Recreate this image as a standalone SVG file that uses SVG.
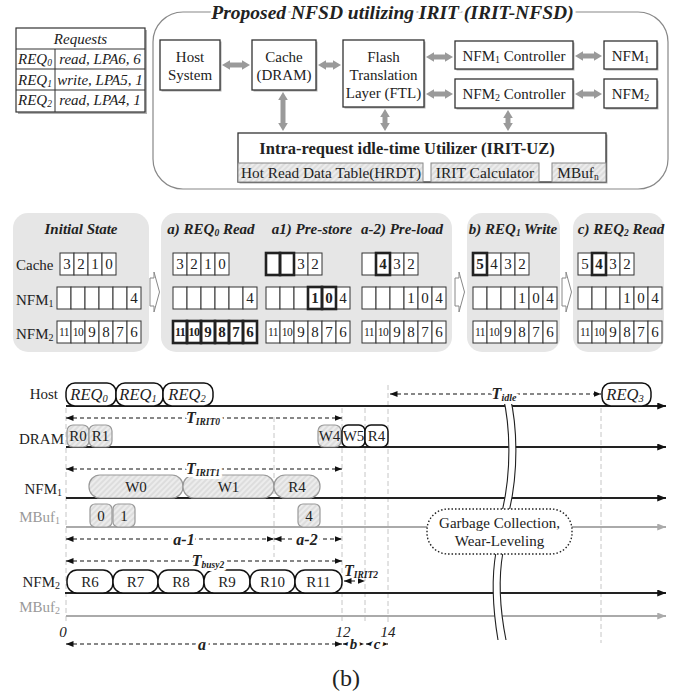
<svg xmlns="http://www.w3.org/2000/svg" width="680" height="692" viewBox="0 0 680 692">
<defs>
<pattern id="hatch" width="4" height="4" patternUnits="userSpaceOnUse" patternTransform="rotate(45)">
<rect width="4" height="4" fill="#ececec"/><line x1="1" y1="0" x2="1" y2="4" stroke="#d4d4d4" stroke-width="1.2"/>
</pattern>
<marker id="ga" viewBox="0 0 10 12" refX="0" refY="6" markerWidth="8" markerHeight="12" markerUnits="userSpaceOnUse" orient="auto-start-reverse"><path d="M0,0 L10,6 L0,12 z" fill="#9a9a9a"/></marker>
<marker id="ka" viewBox="0 0 10 8" refX="10" refY="4" markerWidth="7.5" markerHeight="6" markerUnits="userSpaceOnUse" orient="auto-start-reverse"><path d="M0,0 L10,4 L0,8 z" fill="#111"/></marker>
<marker id="la" viewBox="0 0 10 8" refX="10" refY="4" markerWidth="9" markerHeight="7" markerUnits="userSpaceOnUse" orient="auto"><path d="M0,0 L10,4 L0,8 z" fill="#111"/></marker>
<marker id="lg" viewBox="0 0 10 8" refX="10" refY="4" markerWidth="9" markerHeight="7" markerUnits="userSpaceOnUse" orient="auto"><path d="M0,0 L10,4 L0,8 z" fill="#aaa"/></marker>
<style>
text{font-family:"Liberation Serif","Times New Roman",serif;fill:#222}
.box{fill:#fff;stroke:#333;stroke-width:1.3}
.sh{fill:#b0b0b0}
.hb{fill:url(#hatch);stroke:#888;stroke-width:1}
.garr{stroke:#9a9a9a;stroke-width:5;fill:none;marker-start:url(#ga);marker-end:url(#ga)}
.panel{fill:#e6e6e6}
.c{fill:#fff;stroke:#333;stroke-width:1}
.ct{fill:none;stroke:#222;stroke-width:2.6}
.n{font-size:15px;text-anchor:middle}
.s{font-size:11.5px;text-anchor:middle;letter-spacing:-0.6px}
.nb{font-size:15px;text-anchor:middle;font-weight:bold}
.sb{font-size:12px;text-anchor:middle;letter-spacing:-0.6px;font-weight:bold}
.pt{font-size:15px;font-weight:bold;font-style:italic;text-anchor:middle}
.lab{font-size:15px}
.blk{fill:#fff;stroke:#888;stroke-width:1}
.tl{stroke:#222;stroke-width:2;fill:none;marker-end:url(#la)}
.tg{stroke:#aaa;stroke-width:2;fill:none;marker-end:url(#lg)}
.vd{stroke:#c6c6c6;stroke-width:1;stroke-dasharray:5,3}
.da{stroke:#111;stroke-width:1.2;stroke-dasharray:4,3;fill:none;marker-start:url(#ka);marker-end:url(#ka)}
.halo{paint-order:stroke;stroke:#fff;stroke-width:6px;stroke-linejoin:round}
.bi{font-weight:bold;font-style:italic}
.wb{fill:#fff;stroke:#111;stroke-width:1.5}
.gb{fill:url(#hatch);stroke:#999;stroke-width:1.2}
.bt{font-size:15px;text-anchor:middle}
.rq{font-size:16.5px;font-style:italic;text-anchor:middle}
.grey{fill:#999}
.tr{font-size:15px;font-style:italic}
</style>
</defs>
<rect width="680" height="692" fill="#fff"/>

<!-- Requests table -->
<g id="requests">
<rect x="18" y="30" width="129" height="84" class="sh"/>
<rect x="16" y="28" width="129" height="84" fill="#fff" stroke="#333" stroke-width="1.2"/>
<line x1="16" y1="49" x2="145" y2="49" stroke="#333"/>
<line x1="16" y1="69" x2="145" y2="69" stroke="#333"/>
<line x1="16" y1="90" x2="145" y2="90" stroke="#333"/>
<line x1="55" y1="49" x2="55" y2="112" stroke="#333"/>
<text x="80.5" y="44" font-size="15" font-style="italic" text-anchor="middle">Requests</text>
<text x="18" y="64" class="tr">REQ<tspan font-size="9.5" dy="2">0</tspan></text>
<text x="100" y="64" class="tr" text-anchor="middle">read, LPA6, 6</text>
<text x="18" y="84.5" class="tr">REQ<tspan font-size="9.5" dy="2">1</tspan></text>
<text x="100" y="84.5" class="tr" text-anchor="middle">write, LPA5, 1</text>
<text x="18" y="105" class="tr">REQ<tspan font-size="9.5" dy="2">2</tspan></text>
<text x="100" y="105" class="tr" text-anchor="middle">read, LPA4, 1</text>
</g>

<!-- Architecture container -->
<g id="irit-nfsd">
<rect x="153" y="12" width="515" height="177" rx="30" fill="none" stroke="#888" stroke-width="1.2"/>
<text x="392.5" y="19" font-size="19.5" class="bi halo" text-anchor="middle">Proposed NFSD utilizing IRIT (IRIT-NFSD)</text>
</g>
<g id="host-system">
<rect x="161.5" y="41.5" width="60" height="50" class="sh"/>
<rect x="160" y="40" width="60" height="50" class="box"/>
<text x="190" y="62" class="bt">Host</text>
<text x="190" y="80" class="bt">System</text>
</g>
<g id="cache">
<rect x="253.5" y="41.5" width="64" height="50" class="sh"/>
<rect x="252" y="40" width="64" height="50" class="box"/>
<text x="284" y="62" class="bt">Cache</text>
<text x="284" y="80" class="bt">(DRAM)</text>
</g>
<g id="ftl">
<rect x="344.5" y="41.5" width="81" height="67" class="sh"/>
<rect x="343" y="40" width="81" height="67" class="box"/>
<text x="383.5" y="62" class="bt">Flash</text>
<text x="383.5" y="80" class="bt">Translation</text>
<text x="383.5" y="98" class="bt">Layer (FTL)</text>
</g>
<g id="nfm1-ctrl">
<rect x="456.5" y="42.5" width="118" height="28" class="sh"/>
<rect x="455" y="41" width="118" height="28" class="box"/>
<text x="514" y="60.5" class="bt">NFM<tspan font-size="10" dy="2">1</tspan><tspan dy="-2"> Controller</tspan></text>
</g>
<g id="nfm2-ctrl">
<rect x="456.5" y="80.5" width="118" height="29" class="sh"/>
<rect x="455" y="79" width="118" height="29" class="box"/>
<text x="514" y="99" class="bt">NFM<tspan font-size="10" dy="2">2</tspan><tspan dy="-2"> Controller</tspan></text>
</g>
<g id="nfm1">
<rect x="605.5" y="42.5" width="53" height="28" class="sh"/>
<rect x="604" y="41" width="53" height="28" class="box"/>
<text x="630.5" y="60.5" class="bt">NFM<tspan font-size="10" dy="2">1</tspan></text>
</g>
<g id="nfm2">
<rect x="605.5" y="80.5" width="53" height="29" class="sh"/>
<rect x="604" y="79" width="53" height="29" class="box"/>
<text x="630.5" y="99" class="bt">NFM<tspan font-size="10" dy="2">2</tspan></text>
</g>
<g id="irit-uz">
<rect x="239.5" y="134.5" width="368" height="49" class="sh"/>
<rect x="238" y="133" width="368" height="49" class="box"/>
<text x="407" y="154" font-size="16.5" font-weight="bold" text-anchor="middle">Intra-request idle-time Utilizer (IRIT-UZ)</text>
<rect x="238" y="163" width="185" height="19" class="hb"/>
<text x="331" y="177.5" font-size="15.3" text-anchor="middle">Hot Read Data Table(HRDT)</text>
<rect x="431" y="163" width="108" height="19" class="hb"/>
<text x="485" y="177.5" font-size="15.5" text-anchor="middle">IRIT Calculator</text>
<rect x="552" y="163" width="54" height="19" class="hb"/>
<text x="578" y="177.5" font-size="15.3" text-anchor="middle">MBuf<tspan font-size="9.5" dy="2">n</tspan></text>
</g>
<g id="arch-connectors">
<line x1="230" y1="65" x2="242" y2="65" class="garr"/>
<line x1="326" y1="65" x2="333" y2="65" class="garr"/>
<line x1="434" y1="57" x2="445" y2="57" class="garr"/>
<line x1="434" y1="94" x2="445" y2="94" class="garr"/>
<line x1="583" y1="56" x2="594" y2="56" class="garr"/>
<line x1="583" y1="94" x2="594" y2="94" class="garr"/>
<line x1="283" y1="100" x2="283" y2="123" class="garr"/>
<line x1="385" y1="117" x2="385" y2="123" class="garr"/>
<line x1="508" y1="118" x2="508" y2="123" class="garr"/>
</g>

<!-- State panels -->
<g id="panel-initial">
<rect x="13" y="213" width="136" height="139" rx="15" class="panel"/>
<text x="81" y="234" class="pt">Initial State</text>
<text x="16" y="270" class="lab">Cache</text>
<text x="16" y="305" class="lab">NFM<tspan font-size="10" dy="2">1</tspan></text>
<text x="16" y="339" class="lab">NFM<tspan font-size="10" dy="2">2</tspan></text>
<rect x="60" y="253" width="14" height="22" class="c"/><rect x="74" y="253" width="14" height="22" class="c"/><rect x="88" y="253" width="14" height="22" class="c"/><rect x="102" y="253" width="14" height="22" class="c"/>
<text x="67" y="269" class="n">3</text><text x="81" y="269" class="n">2</text><text x="95" y="269" class="n">1</text><text x="109" y="269" class="n">0</text>
<rect x="57" y="287" width="14" height="22" class="c"/><rect x="71" y="287" width="14" height="22" class="c"/><rect x="85" y="287" width="14" height="22" class="c"/><rect x="99" y="287" width="14" height="22" class="c"/><rect x="113" y="287" width="14" height="22" class="c"/><rect x="127" y="287" width="14" height="22" class="c"/>
<text x="134" y="303" class="n">4</text>
<rect x="57" y="321" width="14" height="22" class="c"/><rect x="71" y="321" width="14" height="22" class="c"/><rect x="85" y="321" width="14" height="22" class="c"/><rect x="99" y="321" width="14" height="22" class="c"/><rect x="113" y="321" width="14" height="22" class="c"/><rect x="127" y="321" width="14" height="22" class="c"/>
<text x="64" y="336" class="s">11</text><text x="78" y="336" class="s">10</text><text x="92" y="337" class="n">9</text><text x="106" y="337" class="n">8</text><text x="120" y="337" class="n">7</text><text x="134" y="337" class="n">6</text>
</g>
<polygon points="150,278 154,278 154,272 159.5,292 154,312 154,306 150,306" class="blk"/>

<g id="panel-a">
<rect x="161" y="213" width="291" height="139" rx="15" class="panel"/>
<text x="211" y="234" class="pt">a) REQ<tspan font-size="9.5" dy="2">0</tspan><tspan dy="-2"> Read</tspan></text>
<text x="312" y="234" class="pt">a1) Pre-store</text>
<text x="402" y="234" class="pt">a-2) Pre-load</text>
<rect x="173" y="253" width="14" height="22" class="c"/><rect x="187" y="253" width="14" height="22" class="c"/><rect x="201" y="253" width="14" height="22" class="c"/><rect x="215" y="253" width="14" height="22" class="c"/>
<text x="180" y="269" class="n">3</text><text x="194" y="269" class="n">2</text><text x="208" y="269" class="n">1</text><text x="222" y="269" class="n">0</text>
<rect x="173" y="287" width="14" height="22" class="c"/><rect x="187" y="287" width="14" height="22" class="c"/><rect x="201" y="287" width="14" height="22" class="c"/><rect x="215" y="287" width="14" height="22" class="c"/><rect x="229" y="287" width="14" height="22" class="c"/><rect x="243" y="287" width="14" height="22" class="c"/>
<text x="250" y="303" class="n">4</text>
<rect x="173" y="321" width="14" height="22" class="c"/><rect x="187" y="321" width="14" height="22" class="c"/><rect x="201" y="321" width="14" height="22" class="c"/><rect x="215" y="321" width="14" height="22" class="c"/><rect x="229" y="321" width="14" height="22" class="c"/><rect x="243" y="321" width="14" height="22" class="c"/>
<rect x="173" y="321" width="14" height="22" class="ct"/><rect x="187" y="321" width="14" height="22" class="ct"/><rect x="201" y="321" width="14" height="22" class="ct"/><rect x="215" y="321" width="14" height="22" class="ct"/><rect x="229" y="321" width="14" height="22" class="ct"/><rect x="243" y="321" width="14" height="22" class="ct"/>
<text x="180" y="336" class="sb">11</text><text x="194" y="336" class="sb">10</text><text x="208" y="337" class="nb">9</text><text x="222" y="337" class="nb">8</text><text x="236" y="337" class="nb">7</text><text x="250" y="337" class="nb">6</text>
<rect x="266" y="253" width="14" height="22" class="c"/><rect x="280" y="253" width="14" height="22" class="c"/><rect x="294" y="253" width="14" height="22" class="c"/><rect x="308" y="253" width="14" height="22" class="c"/>
<rect x="266" y="253" width="14" height="22" class="ct"/><rect x="280" y="253" width="14" height="22" class="ct"/>
<text x="301" y="269" class="n">3</text><text x="315" y="269" class="n">2</text>
<rect x="266" y="287" width="14" height="22" class="c"/><rect x="280" y="287" width="14" height="22" class="c"/><rect x="294" y="287" width="14" height="22" class="c"/><rect x="308" y="287" width="14" height="22" class="c"/><rect x="322" y="287" width="14" height="22" class="c"/><rect x="336" y="287" width="14" height="22" class="c"/>
<rect x="308" y="287" width="14" height="22" class="ct"/><rect x="322" y="287" width="14" height="22" class="ct"/>
<text x="315" y="303" class="nb">1</text><text x="329" y="303" class="nb">0</text><text x="343" y="303" class="n">4</text>
<rect x="266" y="321" width="14" height="22" class="c"/><rect x="280" y="321" width="14" height="22" class="c"/><rect x="294" y="321" width="14" height="22" class="c"/><rect x="308" y="321" width="14" height="22" class="c"/><rect x="322" y="321" width="14" height="22" class="c"/><rect x="336" y="321" width="14" height="22" class="c"/>
<text x="273" y="336" class="s">11</text><text x="287" y="336" class="s">10</text><text x="301" y="337" class="n">9</text><text x="315" y="337" class="n">8</text><text x="329" y="337" class="n">7</text><text x="343" y="337" class="n">6</text>
<rect x="362" y="253" width="14" height="22" class="c"/><rect x="376" y="253" width="14" height="22" class="c"/><rect x="390" y="253" width="14" height="22" class="c"/><rect x="404" y="253" width="14" height="22" class="c"/>
<rect x="376" y="253" width="14" height="22" class="ct"/>
<text x="383" y="269" class="nb">4</text><text x="397" y="269" class="n">3</text><text x="411" y="269" class="n">2</text>
<rect x="362" y="287" width="14" height="22" class="c"/><rect x="376" y="287" width="14" height="22" class="c"/><rect x="390" y="287" width="14" height="22" class="c"/><rect x="404" y="287" width="14" height="22" class="c"/><rect x="418" y="287" width="14" height="22" class="c"/><rect x="432" y="287" width="14" height="22" class="c"/>
<text x="411" y="303" class="n">1</text><text x="425" y="303" class="n">0</text><text x="439" y="303" class="n">4</text>
<rect x="362" y="321" width="14" height="22" class="c"/><rect x="376" y="321" width="14" height="22" class="c"/><rect x="390" y="321" width="14" height="22" class="c"/><rect x="404" y="321" width="14" height="22" class="c"/><rect x="418" y="321" width="14" height="22" class="c"/><rect x="432" y="321" width="14" height="22" class="c"/>
<text x="369" y="336" class="s">11</text><text x="383" y="336" class="s">10</text><text x="397" y="337" class="n">9</text><text x="411" y="337" class="n">8</text><text x="425" y="337" class="n">7</text><text x="439" y="337" class="n">6</text>
</g>
<polygon points="455,278 459,278 459,272 464.5,292 459,312 459,306 455,306" class="blk"/>

<g id="panel-b">
<rect x="467" y="213" width="93" height="139" rx="15" class="panel"/>
<text x="513" y="234" class="pt">b) REQ<tspan font-size="9.5" dy="2">1</tspan><tspan dy="-2"> Write</tspan></text>
<rect x="473" y="253" width="14" height="22" class="c"/><rect x="487" y="253" width="14" height="22" class="c"/><rect x="501" y="253" width="14" height="22" class="c"/><rect x="515" y="253" width="14" height="22" class="c"/>
<rect x="473" y="253" width="14" height="22" class="ct"/>
<text x="480" y="269" class="nb">5</text><text x="494" y="269" class="n">4</text><text x="508" y="269" class="n">3</text><text x="522" y="269" class="n">2</text>
<rect x="473" y="287" width="14" height="22" class="c"/><rect x="487" y="287" width="14" height="22" class="c"/><rect x="501" y="287" width="14" height="22" class="c"/><rect x="515" y="287" width="14" height="22" class="c"/><rect x="529" y="287" width="14" height="22" class="c"/><rect x="543" y="287" width="14" height="22" class="c"/>
<text x="522" y="303" class="n">1</text><text x="536" y="303" class="n">0</text><text x="550" y="303" class="n">4</text>
<rect x="473" y="321" width="14" height="22" class="c"/><rect x="487" y="321" width="14" height="22" class="c"/><rect x="501" y="321" width="14" height="22" class="c"/><rect x="515" y="321" width="14" height="22" class="c"/><rect x="529" y="321" width="14" height="22" class="c"/><rect x="543" y="321" width="14" height="22" class="c"/>
<text x="480" y="336" class="s">11</text><text x="494" y="336" class="s">10</text><text x="508" y="337" class="n">9</text><text x="522" y="337" class="n">8</text><text x="536" y="337" class="n">7</text><text x="550" y="337" class="n">6</text>
</g>
<polygon points="562,278 566,278 566,272 571.5,292 566,312 566,306 562,306" class="blk"/>

<g id="panel-c">
<rect x="573" y="213" width="91" height="139" rx="15" class="panel"/>
<text x="621" y="234" class="pt">c) REQ<tspan font-size="9.5" dy="2">2</tspan><tspan dy="-2"> Read</tspan></text>
<rect x="578" y="253" width="14" height="22" class="c"/><rect x="592" y="253" width="14" height="22" class="c"/><rect x="606" y="253" width="14" height="22" class="c"/><rect x="620" y="253" width="14" height="22" class="c"/>
<rect x="592" y="253" width="14" height="22" class="ct"/>
<text x="585" y="269" class="n">5</text><text x="599" y="269" class="nb">4</text><text x="613" y="269" class="n">3</text><text x="627" y="269" class="n">2</text>
<rect x="578" y="287" width="14" height="22" class="c"/><rect x="592" y="287" width="14" height="22" class="c"/><rect x="606" y="287" width="14" height="22" class="c"/><rect x="620" y="287" width="14" height="22" class="c"/><rect x="634" y="287" width="14" height="22" class="c"/><rect x="648" y="287" width="14" height="22" class="c"/>
<text x="627" y="303" class="n">1</text><text x="641" y="303" class="n">0</text><text x="655" y="303" class="n">4</text>
<rect x="578" y="321" width="14" height="22" class="c"/><rect x="592" y="321" width="14" height="22" class="c"/><rect x="606" y="321" width="14" height="22" class="c"/><rect x="620" y="321" width="14" height="22" class="c"/><rect x="634" y="321" width="14" height="22" class="c"/><rect x="648" y="321" width="14" height="22" class="c"/>
<text x="585" y="336" class="s">11</text><text x="599" y="336" class="s">10</text><text x="613" y="337" class="n">9</text><text x="627" y="337" class="n">8</text><text x="641" y="337" class="n">7</text><text x="655" y="337" class="n">6</text>
</g>

<!-- Timeline -->
<g id="timeline-grid">
<line x1="66" y1="408" x2="66" y2="622" class="vd"/>
<line x1="274" y1="417" x2="274" y2="557" class="vd"/>
<line x1="342" y1="408" x2="342" y2="623" class="vd"/>
<line x1="365" y1="408" x2="365" y2="623" class="vd"/>
<line x1="388" y1="385" x2="388" y2="623" class="vd"/>
<line x1="601" y1="408" x2="601" y2="643" class="vd"/>
</g>
<g id="timeline-lines">
<line x1="66" y1="406" x2="666" y2="406" class="tl"/>
<line x1="66" y1="447" x2="666" y2="447" class="tl"/>
<line x1="66" y1="498" x2="666" y2="498" class="tl"/>
<line x1="66" y1="527" x2="666" y2="527" class="tg"/>
<line x1="65" y1="593" x2="666" y2="593" class="tl"/>
<line x1="66" y1="616" x2="666" y2="616" class="tg"/>
</g>
<g id="timeline-labels">
<text x="58" y="399" class="lab" text-anchor="end">Host</text>
<text x="64" y="444" class="lab" text-anchor="end">DRAM</text>
<text x="62" y="494" class="lab" text-anchor="end">NFM<tspan font-size="10" dy="2">1</tspan></text>
<text x="60" y="522" class="lab grey" text-anchor="end">MBuf<tspan font-size="10" dy="2">1</tspan></text>
<text x="60" y="587" class="lab" text-anchor="end">NFM<tspan font-size="10" dy="2">2</tspan></text>
<text x="60" y="612" class="lab grey" text-anchor="end">MBuf<tspan font-size="10" dy="2">2</tspan></text>
</g>
<g id="break">
<path d="M503,396 C510,425 512,470 502,512 L509,512 C519,470 517,425 510,396 Z" fill="#fff"/>
<path d="M503,396 C510,425 512,470 502,512 M510,396 C517,425 519,470 509,512" fill="none" stroke="#222" stroke-width="1.1"/>
<path d="M496,552 C491,580 493,610 498,640 L506,640 C500,610 498,580 503,552 Z" fill="#fff"/>
<path d="M496,552 C491,580 493,610 498,640 M503,552 C498,580 500,610 506,640" fill="none" stroke="#222" stroke-width="1.1"/>
</g>
<g id="host-reqs">
<rect x="66" y="383" width="50" height="23" rx="9" class="wb"/>
<text x="89" y="400" class="rq">REQ<tspan font-size="10.5" dy="2">0</tspan></text>
<rect x="116" y="383" width="47" height="23" rx="9" class="wb"/>
<text x="138" y="400" class="rq">REQ<tspan font-size="10.5" dy="2">1</tspan></text>
<rect x="163" y="383" width="50" height="23" rx="9" class="wb"/>
<text x="187" y="400" class="rq">REQ<tspan font-size="10.5" dy="2">2</tspan></text>
<rect x="602" y="383" width="49" height="23" rx="9" class="wb"/>
<text x="625" y="400" class="rq" fill="#444">REQ<tspan font-size="10.5" dy="2">3</tspan></text>
</g>
<g id="dram-ops">
<rect x="67" y="425" width="22" height="22" rx="6" class="gb"/><text x="78" y="441" class="bt">R0</text>
<rect x="89" y="425" width="23" height="22" rx="6" class="gb"/><text x="100.5" y="441" class="bt">R1</text>
<rect x="318" y="425" width="23" height="22" rx="6" class="gb"/><text x="329.5" y="441" class="bt">W4</text>
<rect x="342" y="425" width="23" height="22" rx="6" class="wb"/><text x="353.5" y="441" class="bt">W5</text>
<rect x="365" y="425" width="23" height="22" rx="6" class="wb"/><text x="376.5" y="441" class="bt">R4</text>
</g>
<g id="nfm1-ops">
<rect x="89" y="475" width="94" height="23" rx="11" class="gb"/><text x="136" y="492" class="bt">W0</text>
<rect x="183" y="475" width="91" height="23" rx="11" class="gb"/><text x="228.5" y="492" class="bt">W1</text>
<rect x="274" y="475" width="46" height="23" rx="11" class="gb"/><text x="297" y="492" class="bt">R4</text>
</g>
<g id="mbuf1-ops">
<rect x="90" y="504" width="22" height="23" rx="5" class="gb"/><text x="101" y="521" class="bt">0</text>
<rect x="113" y="504" width="22" height="23" rx="5" class="gb"/><text x="124" y="521" class="bt">1</text>
<rect x="298" y="504" width="22" height="23" rx="5" class="gb"/><text x="309" y="521" class="bt">4</text>
</g>
<g id="nfm2-ops">
<rect x="67" y="570" width="46" height="23" rx="10" class="wb"/><text x="90" y="587" class="bt">R6</text>
<rect x="113" y="570" width="45" height="23" rx="10" class="wb"/><text x="135.5" y="587" class="bt">R7</text>
<rect x="158" y="570" width="46" height="23" rx="10" class="wb"/><text x="181" y="587" class="bt">R8</text>
<rect x="204" y="570" width="46" height="23" rx="10" class="wb"/><text x="227" y="587" class="bt">R9</text>
<rect x="250" y="570" width="45" height="23" rx="10" class="wb"/><text x="272.5" y="587" class="bt">R10</text>
<rect x="295" y="570" width="47" height="23" rx="10" class="wb"/><text x="318.5" y="587" class="bt">R11</text>
</g>
<g id="intervals">
<line x1="66" y1="418" x2="342" y2="418" class="da"/>
<text x="203" y="423" font-size="16" class="bi halo" text-anchor="middle">T<tspan font-size="9.5" dy="2">IRIT0</tspan></text>
<line x1="66" y1="469" x2="342" y2="469" class="da"/>
<text x="203" y="474" font-size="16" class="bi halo" text-anchor="middle">T<tspan font-size="9.5" dy="2">IRIT1</tspan></text>
<line x1="390" y1="394" x2="601" y2="394" class="da"/>
<text x="504" y="399" font-size="16" class="bi halo" text-anchor="middle">T<tspan font-size="10" dy="2">idle</tspan></text>
<line x1="66" y1="539" x2="274" y2="539" class="da"/>
<text x="184" y="545" font-size="16" class="bi halo" text-anchor="middle">a-1</text>
<line x1="274" y1="539" x2="342" y2="539" class="da"/>
<text x="307" y="545" font-size="16" class="bi halo" text-anchor="middle">a-2</text>
<line x1="66" y1="561" x2="342" y2="561" class="da"/>
<text x="208" y="566" font-size="16" class="bi halo" text-anchor="middle">T<tspan font-size="9.5" dy="2">busy2</tspan></text>
<text x="344" y="576" font-size="16" class="bi">T<tspan font-size="9.5" dy="2">IRIT2</tspan></text>
<line x1="344" y1="581" x2="365" y2="581" class="da" stroke-dasharray="none"/>
<text x="63" y="637" font-size="15" font-style="italic" text-anchor="middle">0</text>
<text x="343" y="637" font-size="15" font-style="italic" text-anchor="middle">12</text>
<text x="388" y="637" font-size="15" font-style="italic" text-anchor="middle">14</text>
<line x1="66" y1="644" x2="342" y2="644" class="da"/>
<text x="202" y="650" font-size="16" class="bi halo" text-anchor="middle">a</text>
<line x1="343" y1="644" x2="364" y2="644" class="da" stroke-dasharray="none"/>
<text x="353.5" y="649" font-size="15" class="bi halo" text-anchor="middle">b</text>
<line x1="366" y1="644" x2="388" y2="644" class="da" stroke-dasharray="none"/>
<text x="377" y="649" font-size="15" class="bi halo" text-anchor="middle">c</text>
</g>
<g id="gc-callout">
<rect x="427" y="509" width="145" height="45" rx="21" fill="#fff" stroke="#222" stroke-width="1.4" stroke-dasharray="1.5,2"/>
<text x="499.5" y="528" class="bt">Garbage Collection,</text>
<text x="499.5" y="546" class="bt">Wear-Leveling</text>
</g>
<text x="346" y="686" font-size="24" text-anchor="middle">(b)</text>
</svg>
